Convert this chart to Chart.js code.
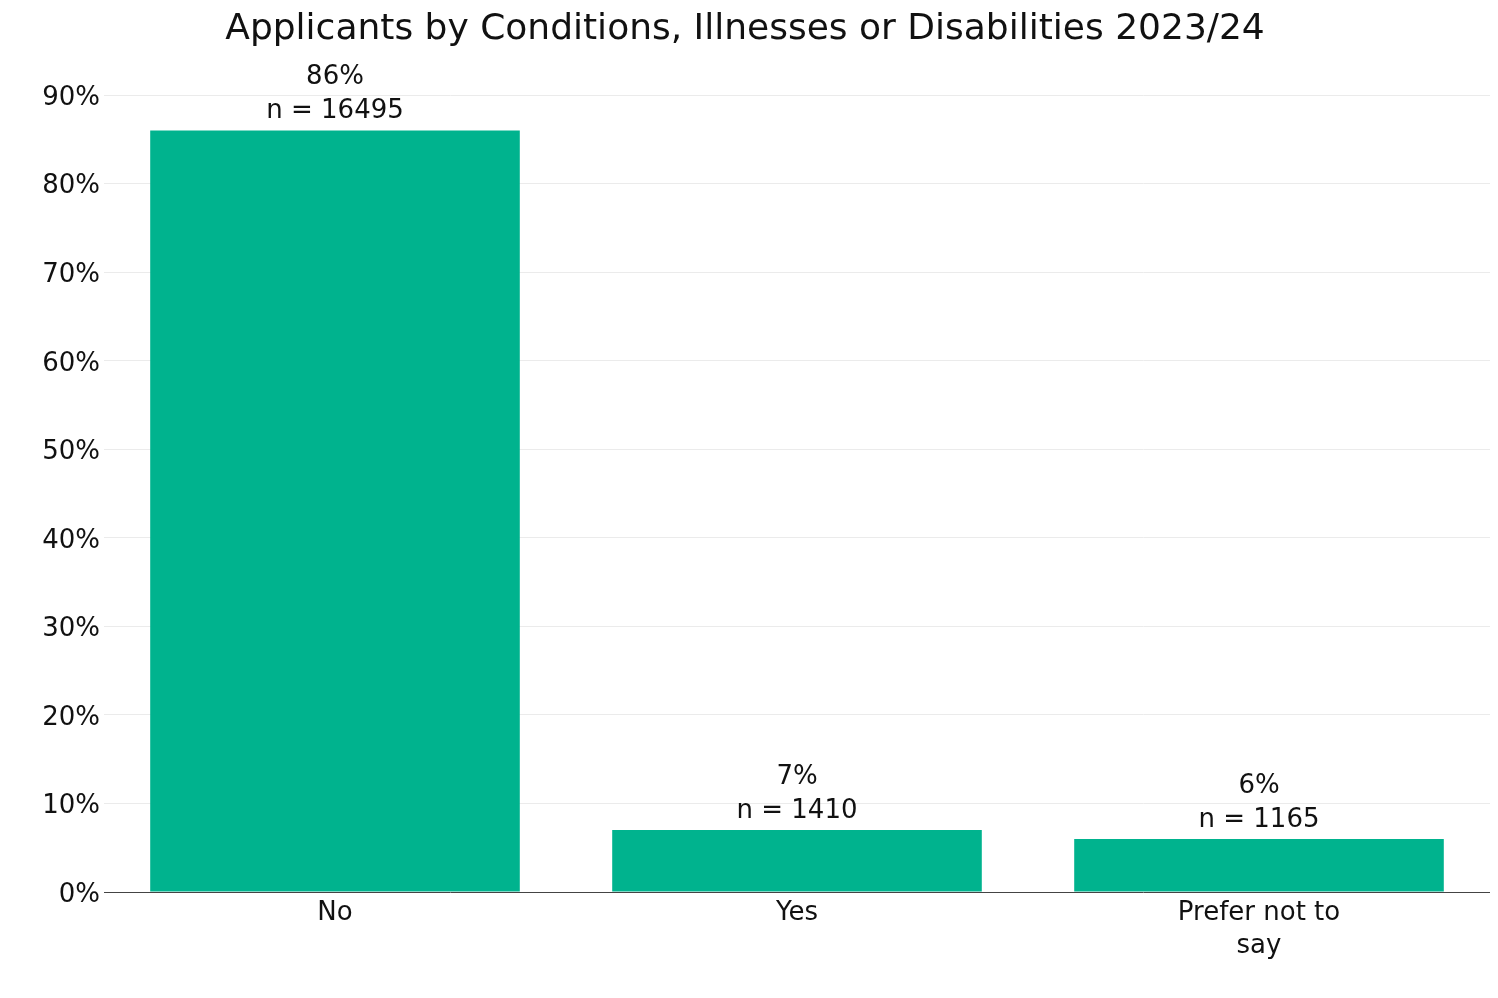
<!DOCTYPE html>
<html>
<head>
<meta charset="utf-8">
<title>Applicants by Conditions, Illnesses or Disabilities 2023/24</title>
<script src="https://cdn.jsdelivr.net/npm/chart.js@4/dist/chart.umd.min.js"></script>
<style>
  html, body { margin: 0; padding: 0; background: #fff; }
  #wrap { width: 1498px; height: 998px; }
</style>
</head>
<body>
<div id="wrap"><canvas id="conditionsChart"></canvas></div>
<script>
var categories = ['No', 'Yes', 'Prefer not to say'];
var percents = [86, 7, 6];
var counts = [16495, 1410, 1165];
var yTicks = [0, 10, 20, 30, 40, 50, 60, 70, 80, 90];

var FONT = "'DejaVu Sans', Verdana, sans-serif";

// labels above each bar: "86%" then "n = 16495"
var barLabels = {
    id: 'barLabels',
    afterDatasetsDraw: function (chart) {
        var ctx = chart.ctx;
        var meta = chart.getDatasetMeta(0);
        ctx.save();
        ctx.font = '26px ' + FONT;
        ctx.fillStyle = '#111';
        ctx.textAlign = 'center';
        ctx.textBaseline = 'middle';
        meta.data.forEach(function (bar, i) {
            ctx.fillText('n = ' + counts[i], bar.x, bar.y - 19);
            ctx.fillText(percents[i] + '%', bar.x, bar.y - 53);
        });
        ctx.restore();
    }
};

var ctx = document.getElementById('conditionsChart').getContext('2d');
var chart = new Chart(ctx, {
    type: 'bar',
    data: {
        labels: categories,
        datasets: [{
            data: percents,
            backgroundColor: '#00b38e',
            borderWidth: 0,
            categoryPercentage: 0.8,
            barPercentage: 1.0
        }]
    },
    options: {
        responsive: true,
        maintainAspectRatio: false,
        animation: false,
        layout: { padding: { left: 0, right: 8, top: 0, bottom: 0 } },
        plugins: {
            legend: { display: false },
            tooltip: { enabled: false },
            title: {
                display: true,
                text: 'Applicants by Conditions, Illnesses or Disabilities 2023/24',
                color: '#111',
                font: { family: FONT, size: 36, weight: 'normal' },
                padding: { top: 8, bottom: 44 }
            }
        },
        scales: {
            x: {
                grid: { display: false },
                border: { display: false },
                ticks: {
                    color: '#111',
                    padding: -4,
                    font: { family: FONT, size: 26, lineHeight: 1.3 },
                    maxRotation: 0,
                    callback: function (value, index) {
                        var lbl = categories[index];
                        if (lbl === 'Prefer not to say') return ['Prefer not to', 'say'];
                        return lbl;
                    }
                },
                afterFit: function (scale) { scale.height = 106; }
            },
            y: {
                min: 0,
                max: 90,
                afterBuildTicks: function (scale) {
                    scale.ticks = yTicks.map(function (v) { return { value: v }; });
                },
                grid: {
                    drawTicks: false,
                    lineWidth: 1,
                    color: function (c) { return c.tick && c.tick.value === 0 ? '#444' : '#ebebeb'; }
                },
                border: { display: false },
                ticks: {
                    color: '#111',
                    padding: 4,
                    labelOffset: 3,
                    font: { family: FONT, size: 26 },
                    callback: function (v) { return v + '%'; }
                },
                afterFit: function (scale) { scale.width = 104; }
            }
        }
    },
    plugins: [barLabels]
});
</script>
</body>
</html>
